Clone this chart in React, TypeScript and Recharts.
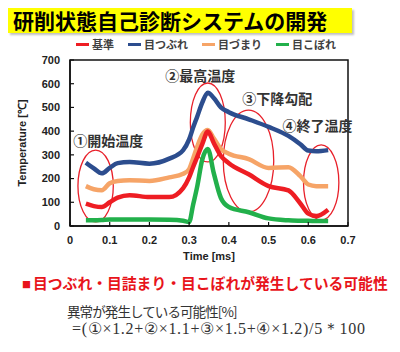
import { LineChart, Line, XAxis, YAxis, ReferenceArea, ReferenceDot, Label } from "recharts";

// time [ms]
const TIMES = [0.04, 0.06, 0.08, 0.1, 0.12, 0.15, 0.2, 0.25, 0.285, 0.3, 0.31, 0.32, 0.333, 0.347, 0.362, 0.38, 0.4, 0.45, 0.5, 0.55, 0.58, 0.6, 0.62, 0.65];

// temperature [℃]
const KIJUN = [94, 84, 80, 100, 120, 130, 122, 122, 160, 205, 249, 290, 345, 398, 350, 295, 265, 218, 168, 150, 95, 52, 42, 69];
const METSUBURE = [267, 243, 222, 245, 265, 270, 263, 284, 320, 365, 415, 460, 520, 562, 540, 500, 480, 450, 418, 380, 345, 318, 315, 320];
const METSUMARI = [168, 155, 151, 180, 190, 193, 190, 205, 220, 240, 285, 333, 385, 405, 370, 325, 305, 282, 245, 248, 210, 175, 168, 168];
const MEKOBORE = [24, 24, 25, 27, 27, 27, 27, 26, 22, 17, 90, 164, 280, 325, 223, 118, 80, 58, 32, 24, 22, 22, 21, 21];

const X_TICKS = [0, 0.1, 0.2, 0.3, 0.4, 0.5, 0.6, 0.7];
const Y_TICKS = [0, 100, 200, 300, 400, 500, 600, 700];

// drawn in this order (red last, on top)
const SERIES = [
  { key: "metsubure", name: "目つぶれ", color: "#2C4D8E", values: METSUBURE },
  { key: "metsumari", name: "目づまり", color: "#F6A467", values: METSUMARI },
  { key: "mekobore", name: "目こぼれ", color: "#22B04B", values: MEKOBORE },
  { key: "kijun", name: "基準", color: "#EE1D23", values: KIJUN },
];
const LEGEND_ORDER = ["kijun", "metsubure", "metsumari", "mekobore"];

// red ellipses marking the four judged zones
const ZONES = [
  { t1: 0.02, t2: 0.109, v1: 17, v2: 320 },
  { t1: 0.303, t2: 0.391, v1: 270, v2: 603 },
  { t1: 0.386, t2: 0.513, v1: 59, v2: 489 },
  { t1: 0.588, t2: 0.677, v1: 25, v2: 342 },
];

const ZONE_LABELS = [
  { t: 0.008, v: 363, text: "①開始温度" },
  { t: 0.24, v: 637, text: "②最高温度" },
  { t: 0.434, v: 540, text: "③下降勾配" },
  { t: 0.535, v: 426, text: "④終了温度" },
];

const data = TIMES.map((t, i) => {
  const row: Record<string, number> = { t };
  SERIES.forEach((s) => (row[s.key] = s.values[i]));
  return row;
});

const JP = '"Noto Sans CJK JP", "Noto Sans", sans-serif';
const AXIS_FONT = '"Liberation Sans", Arial, sans-serif';

export default function App() {
  return (
    <div style={{ position: "absolute", left: 0, top: 0, width: 400, height: 352, background: "#fff", overflow: "hidden" }}>
      <div
        style={{
          position: "absolute",
          left: 8,
          top: 8,
          width: 344,
          height: 25,
          background: "#FFFF00",
          boxShadow: "2px 2px 2px rgba(0,0,0,0.25)",
          fontFamily: JP,
          fontWeight: 700,
          fontSize: 21,
          lineHeight: "25px",
          color: "#000",
          paddingLeft: 5,
          boxSizing: "border-box",
          whiteSpace: "nowrap",
        }}
      >
        研削状態自己診断システムの開発
      </div>

      <div
        style={{
          position: "absolute",
          left: 76,
          top: 36,
          display: "flex",
          alignItems: "center",
          fontFamily: JP,
          fontSize: 11,
          fontWeight: 700,
          color: "#404040",
          whiteSpace: "nowrap",
        }}
      >
        {LEGEND_ORDER.map((k) => {
          const s = SERIES.find((x) => x.key === k)!;
          return (
            <span key={k} style={{ display: "flex", alignItems: "center", marginRight: 14 }}>
              <span style={{ display: "inline-block", width: 13, height: 3, background: s.color, marginRight: 3 }} />
              {s.name}
            </span>
          );
        })}
      </div>

      <div style={{ position: "absolute", left: 0, top: 0 }}>
        <LineChart width={400} height={270} data={data} margin={{ top: 60, right: 52, bottom: 8, left: 10 }}>
          <XAxis
            dataKey="t"
            type="number"
            domain={[0, 0.7]}
            ticks={X_TICKS}
            tickFormatter={(v: number) => (v === 0 ? "0" : String(v))}
            tick={{ fill: "#222", fontSize: 11, fontWeight: 700, fontFamily: AXIS_FONT }}
            axisLine={{ stroke: "#111", strokeWidth: 1.5 }}
            tickLine={{ stroke: "#111", strokeWidth: 1.2 }}
            tickSize={-4}
            tickMargin={14}
            height={36}
          >
            <Label
              value="Time [ms]"
              position="insideBottom"
              offset={2}
              style={{ fill: "#222", fontSize: 11, fontWeight: 700, fontFamily: AXIS_FONT }}
            />
          </XAxis>
          <YAxis
            type="number"
            domain={[0, 700]}
            ticks={Y_TICKS}
            tick={{ fill: "#222", fontSize: 11, fontWeight: 700, fontFamily: AXIS_FONT }}
            axisLine={{ stroke: "#111", strokeWidth: 1.5 }}
            tickLine={{ stroke: "#111", strokeWidth: 1.2 }}
            tickSize={-4}
            tickMargin={14}
            width={60}
          >
            <Label
              value="Temperature [℃]"
              angle={-90}
              position="insideLeft"
              offset={12}
              style={{ textAnchor: "middle", fill: "#222", fontSize: 11, fontWeight: 700, fontFamily: AXIS_FONT }}
            />
          </YAxis>
          <ReferenceArea x1={0} x2={0.7} y1={0} y2={700} fill="none" stroke="#111" strokeWidth={1.5} fillOpacity={0} />
          {SERIES.map((s) => (
            <Line
              key={s.key}
              dataKey={s.key}
              name={s.name}
              type="monotone"
              stroke={s.color}
              strokeWidth={4.5}
              dot={false}
              activeDot={false}
              isAnimationActive={false}
            />
          ))}
          {ZONES.map((z, i) => (
            <ReferenceArea
              key={"z" + i}
              x1={z.t1}
              x2={z.t2}
              y1={z.v1}
              y2={z.v2}
              ifOverflow="visible"
              shape={(p: any) => (
                <ellipse
                  cx={p.x + p.width / 2}
                  cy={p.y + p.height / 2}
                  rx={p.width / 2}
                  ry={p.height / 2}
                  fill="none"
                  stroke="#E8202A"
                  strokeWidth={1.3}
                />
              )}
            />
          ))}
          {ZONE_LABELS.map((l, i) => (
            <ReferenceDot
              key={"l" + i}
              x={l.t}
              y={l.v}
              r={0}
              ifOverflow="visible"
              shape={(p: any) => (
                <text
                  x={p.cx}
                  y={p.cy}
                  dominantBaseline="central"
                  fill="#333"
                  fontSize={14}
                  fontWeight={700}
                  fontFamily={JP}
                >
                  {l.text}
                </text>
              )}
            />
          ))}
        </LineChart>
      </div>

      <div
        style={{
          position: "absolute",
          left: 22,
          top: 273,
          fontFamily: JP,
          fontSize: 14.8,
          fontWeight: 700,
          color: "#E8141B",
          whiteSpace: "nowrap",
          lineHeight: "20px",
        }}
      >
        <span style={{ fontSize: 9, verticalAlign: "middle", marginRight: 2 }}>■</span>
        目つぶれ・目詰まり・目こぼれが発生している可能性
      </div>
      <div
        style={{
          position: "absolute",
          left: 67,
          top: 301,
          fontFamily: JP,
          fontSize: 13.5,
          letterSpacing: -0.9,
          color: "#333",
          whiteSpace: "nowrap",
          lineHeight: "20px",
        }}
      >
        異常が発生している可能性[%]
      </div>
      <div
        style={{
          position: "absolute",
          left: 72,
          top: 320,
          fontFamily: '"Liberation Serif", "DejaVu Serif", serif',
          fontSize: 16,
          letterSpacing: 0.7,
          color: "#333",
          whiteSpace: "nowrap",
          lineHeight: "18px",
        }}
      >
        =(①×1.2+②×1.1+③×1.5+④×1.2)/5＊100
      </div>
    </div>
  );
}
